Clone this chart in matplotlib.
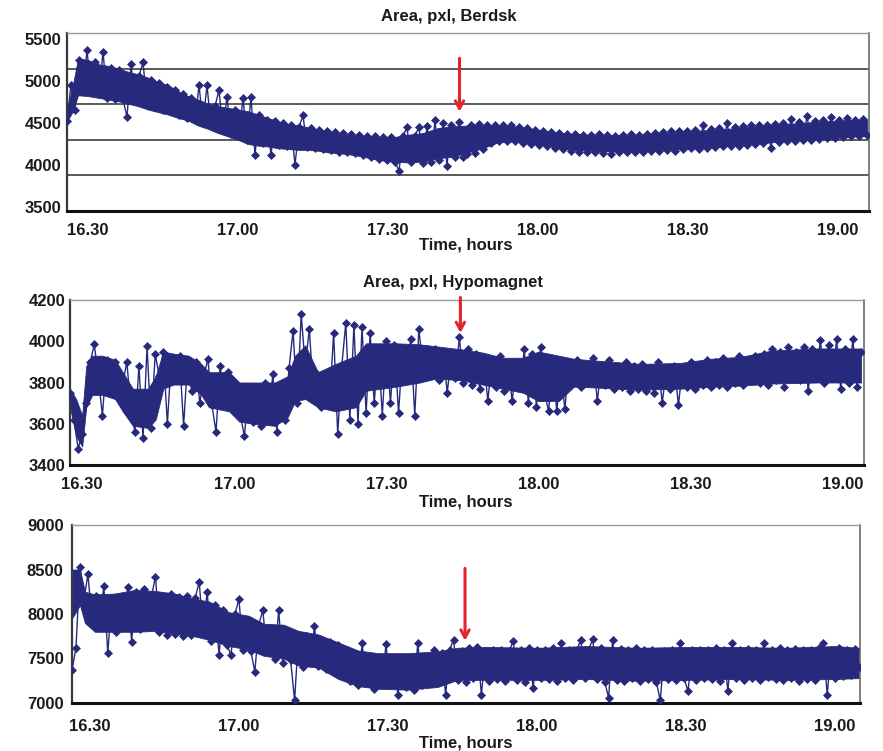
import numpy as np
import matplotlib
matplotlib.use('Agg')
import matplotlib.pyplot as plt

plt.rcParams['font.family'] = ['Liberation Sans', 'DejaVu Sans']

# ---------------- data ----------------
time_labels = ['16.30', '17.00', '17.30', '18.00', '18.30', '19.00']
time_ticks_min = [0, 30, 60, 90, 120, 150]          # minutes after 16:30
xlabel = 'Time, hours'

# ---- Panel 1: Berdsk ----
berdsk_title = 'Area, pxl, Berdsk'
berdsk_span = (-4.2, 155.8)                          # first / last sample, minutes after 16:30
berdsk = [
    4520, 4950, 4660, 5250, 4900, 5370, 4870, 5220, 4850, 5350,
    4800, 5160, 4790, 5130, 4780, 4570, 5200, 4770, 5060, 5220,
    4720, 5010, 4690, 4980, 4660, 4930, 4640, 4890, 4600, 4850,
    4560, 4800, 4530, 4950, 4500, 4950, 4460, 4700, 4890, 4420,
    4810, 4370, 4660, 4340, 4800, 4300, 4810, 4120, 4600, 4260,
    4540, 4120, 4520, 4240, 4500, 4230, 4480, 4000, 4450, 4590,
    4210, 4440, 4200, 4420, 4190, 4400, 4180, 4390, 4160, 4380,
    4150, 4370, 4140, 4360, 4120, 4350, 4100, 4340, 4070, 4330,
    4060, 4330, 4040, 3930, 4340, 4450, 4030, 4350, 4450, 4020,
    4460, 4040, 4530, 4060, 4500, 3990, 4480, 4100, 4510, 4100,
    4130, 4480, 4140, 4490, 4190, 4470, 4260, 4480, 4280, 4480,
    4290, 4470, 4280, 4450, 4260, 4440, 4250, 4420, 4240, 4410,
    4230, 4390, 4200, 4380, 4190, 4370, 4170, 4370, 4160, 4360,
    4160, 4360, 4150, 4370, 4140, 4360, 4130, 4350, 4150, 4360,
    4150, 4370, 4160, 4360, 4150, 4370, 4170, 4380, 4170, 4390,
    4180, 4400, 4170, 4410, 4190, 4400, 4200, 4420, 4190, 4470,
    4200, 4430, 4210, 4440, 4220, 4500, 4230, 4450, 4230, 4460,
    4240, 4470, 4250, 4480, 4260, 4470, 4200, 4490, 4270, 4500,
    4280, 4550, 4290, 4510, 4300, 4580, 4300, 4520, 4310, 4540,
    4320, 4570, 4320, 4540, 4330, 4560, 4340, 4540, 4350, 4550,
    4360,
]
# dense core of the point cloud (minute, low, high)
berdsk_band_t = [-4.2, -3, -2, 0, 2, 4, 6, 8, 10, 12, 14, 16, 18, 20, 22, 24, 26, 28,
                 30, 32, 34, 36, 38, 40, 42, 44, 46, 48, 50, 52, 55, 58, 61, 64, 67,
                 70, 73, 76, 79, 82, 85, 88, 91, 94, 97, 100, 105, 110, 115, 120,
                 125, 130, 135, 140, 145, 150, 155.8]
berdsk_band_lo = [4520, 4640, 4830, 4820, 4800, 4780, 4760, 4730, 4700, 4660, 4630,
                  4600, 4560, 4530, 4470, 4430, 4380, 4340, 4300, 4250, 4230, 4220,
                  4200, 4190, 4180, 4180, 4170, 4150, 4140, 4130, 4100, 4060, 4040,
                  4030, 4040, 4080, 4100, 4150, 4200, 4270, 4280, 4260, 4240, 4200,
                  4180, 4170, 4160, 4160, 4180, 4190, 4210, 4240, 4260, 4290, 4300,
                  4330, 4350]
berdsk_band_hi = [4660, 4960, 5270, 5250, 5200, 5180, 5150, 5110, 5080, 5040, 4990,
                  4950, 4880, 4820, 4780, 4730, 4700, 4680, 4660, 4640, 4600, 4560,
                  4520, 4490, 4470, 4450, 4420, 4400, 4380, 4360, 4340, 4330, 4330,
                  4360, 4380, 4440, 4460, 4470, 4470, 4470, 4460, 4440, 4410, 4380,
                  4370, 4360, 4355, 4360, 4380, 4400, 4420, 4440, 4470, 4490, 4510,
                  4530, 4540]
berdsk_yticks = [3500, 4000, 4500, 5000, 5500]
berdsk_gridlines = [3878, 4296, 4725, 5142]

# ---- Panel 2: Hypomagnet ----
hypo_title = 'Area, pxl, Hypomagnet'
hypo_span = (-2.4, 153.6)
hypo = [
    3750, 3620, 3480, 3550, 3700, 3900, 3985, 3820, 3640, 3910,
    3760, 3900, 3720, 3790, 3900, 3680, 3560, 3880, 3530, 3975,
    3580, 3940, 3830, 3950, 3600, 3920, 3850, 3930, 3590, 3900,
    3760, 3900, 3700, 3830, 3915, 3690, 3560, 3880, 3720, 3850,
    3680, 3790, 3640, 3540, 3760, 3610, 3780, 3590, 3800, 3620,
    3840, 3560, 3780, 3620, 3870, 4050, 3700, 4130, 3880, 4060,
    3750, 3840, 3680, 3820, 3700, 4040, 3550, 3880, 4090, 3620,
    4080, 3600, 4070, 3650, 4040, 3700, 3960, 3640, 4000, 3700,
    3980, 3650, 3960, 3850, 4010, 3640, 4060, 3880, 3960, 3840,
    3960, 3810, 3950, 3750, 3930, 3820, 4020, 3800, 3960, 3790,
    3940, 3770, 3920, 3710, 3900, 3780, 3930, 3760, 3890, 3710,
    3880, 3780, 3960, 3700, 3940, 3680, 3970, 3750, 3660, 3900,
    3660, 3860, 3670, 3900, 3820, 3910, 3780, 3890, 3810, 3920,
    3710, 3880, 3790, 3910, 3770, 3880, 3780, 3900, 3760, 3880,
    3770, 3890, 3760, 3870, 3750, 3900, 3700, 3860, 3770, 3880,
    3690, 3870, 3780, 3900, 3770, 3880, 3790, 3910, 3780, 3900,
    3790, 3920, 3780, 3900, 3800, 3930, 3790, 3910, 3810, 3930,
    3800, 3940, 3790, 3960, 3810, 3950, 3780, 3970, 3820, 3950,
    3810, 3970, 3760, 3960, 3830, 4005, 3800, 3980, 3820, 4010,
    3770, 3960, 3800, 4010, 3780, 3950,
]
hypo_band_t = [-2.4, -1.2, 0, 0.8, 2, 4, 6.5, 8, 10, 13, 14.5, 16, 18, 21, 23.5, 25,
               29, 31, 34, 38, 40.5, 42, 44, 46.5, 50, 54, 56, 62, 66.6, 70, 75, 79,
               83, 87, 90, 94, 97, 102, 110, 118, 124, 130, 136, 145, 153.6]
hypo_band_lo = [3680, 3540, 3490, 3680, 3740, 3740, 3720, 3660, 3590, 3580, 3620,
                3770, 3790, 3790, 3740, 3680, 3660, 3610, 3600, 3590, 3630, 3710,
                3720, 3680, 3660, 3680, 3760, 3780, 3800, 3820, 3810, 3790, 3770,
                3750, 3710, 3710, 3780, 3775, 3765, 3770, 3780, 3785, 3795, 3800,
                3800]
hypo_band_hi = [3770, 3720, 3640, 3880, 3930, 3930, 3910, 3850, 3770, 3770, 3830,
                3950, 3940, 3930, 3890, 3850, 3850, 3800, 3800, 3800, 3830, 3930,
                3980, 3850, 3890, 3930, 3990, 3990, 3985, 3975, 3960, 3945, 3920,
                3920, 3950, 3930, 3915, 3905, 3890, 3895, 3915, 3925, 3955, 3965,
                3965]
hypo_yticks = [3400, 3600, 3800, 4000, 4200]
hypo_gridlines = [3600, 3800, 4000]

# ---- Panel 3 ----
third_span = (-3.6, 154.8)
third = [
    7370, 7620, 8530, 8150, 8450, 7950, 8200, 7900, 8320, 7560,
    8150, 7800, 8190, 7850, 8300, 7690, 8250, 7830, 8280, 7850,
    8200, 8420, 7800, 8180, 7760, 8220, 7780, 8190, 7750, 8200,
    7760, 8180, 8360, 7800, 8250, 7700, 8100, 7540, 8050, 7650,
    7540, 8000, 8170, 7600, 7900, 7580, 7350, 7880, 8040, 7600,
    7820, 7500, 8040, 7450, 7780, 7480, 7030, 7760, 7400, 7750,
    7450, 7860, 7420, 7700, 7380, 7680, 7350, 7650, 7330, 7600,
    7250, 7500, 7200, 7670, 7230, 7480, 7160, 7450, 7210, 7660,
    7200, 7480, 7090, 7460, 7180, 7500, 7150, 7670, 7200, 7480,
    7250, 7600, 7270, 7560, 7090, 7600, 7710, 7260, 7580, 7240,
    7620, 7280, 7630, 7090, 7580, 7250, 7600, 7270, 7590, 7250,
    7580, 7700, 7260, 7600, 7240, 7620, 7170, 7590, 7280, 7600,
    7270, 7620, 7250, 7670, 7280, 7600, 7260, 7590, 7710, 7280,
    7600, 7720, 7270, 7620, 7240, 7060, 7710, 7260, 7610, 7250,
    7600, 7280, 7620, 7250, 7590, 7270, 7600, 7240, 7030, 7580,
    7270, 7600, 7260, 7670, 7280, 7130, 7600, 7260, 7590, 7280,
    7600, 7270, 7620, 7250, 7590, 7130, 7670, 7280, 7600, 7260,
    7610, 7280, 7590, 7260, 7670, 7290, 7600, 7270, 7620, 7260,
    7600, 7280, 7610, 7250, 7590, 7270, 7600, 7260, 7620, 7670,
    7090, 7600, 7280, 7620, 7300, 7600, 7320, 7610, 7400,
]
third_band_t = [-3.6, -2, -1, 1, 5, 9, 13, 17, 21, 24, 28, 32, 35, 39, 42, 46, 50,
                54, 58, 64, 70, 74, 80, 90, 100, 110, 120, 130, 140, 150, 154.8]
third_band_lo = [7950, 8100, 7900, 7800, 7800, 7800, 7810, 7780, 7750, 7710, 7640,
                 7600, 7530, 7500, 7420, 7400, 7270, 7190, 7160, 7150, 7180, 7260,
                 7260, 7260, 7270, 7250, 7260, 7270, 7260, 7270, 7280]
third_band_hi = [8500, 8500, 8250, 8220, 8230, 8270, 8260, 8230, 8170, 8140, 8020,
                 7980, 7890, 7880, 7810, 7770, 7680, 7590, 7560, 7560, 7580, 7620,
                 7630, 7620, 7640, 7620, 7630, 7630, 7620, 7640, 7620]
third_yticks = [7000, 7500, 8000, 8500, 9000]
third_gridlines = [7500, 8000, 8500]

# red arrows: (minute, arrow start value, arrow tip value)
event_berdsk = (74.3, 5270, 4635)
event_hypo = (74.6, 4212, 4040)
event_third = (75.5, 8513, 7700)

# ---------------- styling ----------------
NAVY = '#272a7c'
RED = '#e3242b'
W, H = 883, 751

fig = plt.figure(figsize=(W / 100, H / 100), dpi=100)
fig.patch.set_facecolor('white')


def px_axes(left, top, right, bottom):
    return fig.add_axes([left / W, 1 - bottom / H, (right - left) / W, (bottom - top) / H])


panels = [
    dict(box=(67, 33, 869, 211), series=berdsk, span=berdsk_span, xlim=(-4.2, 156.2),
         band=(berdsk_band_t, berdsk_band_lo, berdsk_band_hi),
         ylim=(3452, 5571), yticks=berdsk_yticks, grid=berdsk_gridlines, gridc='#5a5a5a',
         event=event_berdsk, ypad=4, xpad=8.5),
    dict(box=(70, 300, 864, 465), series=hypo, span=hypo_span, xlim=(-2.4, 154.2),
         band=(hypo_band_t, hypo_band_lo, hypo_band_hi),
         ylim=(3400, 4200), yticks=hypo_yticks, grid=hypo_gridlines, gridc='#6e6e6e',
         event=event_hypo, ypad=3, xpad=8.5),
    dict(box=(72, 525, 860, 703), series=third, span=third_span, xlim=(-3.6, 155.0),
         band=(third_band_t, third_band_lo, third_band_hi),
         ylim=(7000, 9000), yticks=third_yticks, grid=third_gridlines, gridc='#4a4a4a',
         event=event_third, ypad=6, xpad=11.5),
]

for p in panels:
    ax = px_axes(*p['box'])
    bt, blo, bhi = p['band']
    ax.fill_between(bt, blo, bhi, color=NAVY, lw=0.6, ec=NAVY, zorder=2)
    vals = np.asarray(p['series'], dtype=float)
    t = np.linspace(p['span'][0], p['span'][1], len(vals))
    ax.plot(t, vals, color=NAVY, lw=1.0, marker='D', ms=3.8,
            mfc=NAVY, mec=NAVY, mew=0.5, zorder=3)
    ax.set_xlim(*p['xlim'])
    ax.set_ylim(*p['ylim'])
    ax.set_xticks(time_ticks_min, time_labels)
    ax.set_yticks(p['yticks'], [str(v) for v in p['yticks']])
    ax.set_yticks(p['grid'], minor=True)
    ax.tick_params(which='both', length=0)
    ax.tick_params(axis='x', pad=p['xpad'], labelsize=12, colors='#1a1a1a')
    ax.tick_params(axis='y', pad=p['ypad'], labelsize=12, colors='#1a1a1a')
    for lab in ax.get_xticklabels() + ax.get_yticklabels():
        lab.set_fontweight('bold')
    ax.set_axisbelow(True)
    ax.yaxis.grid(True, which='minor', color=p['gridc'], lw=1.4)
    ax.spines['top'].set_color('#9a9a9a')
    ax.spines['top'].set_linewidth(1.0)
    ax.spines['right'].set_color('#6a6a6a')
    ax.spines['right'].set_linewidth(1.2)
    ax.spines['left'].set_color('#3a3a3a')
    ax.spines['left'].set_linewidth(1.6)
    ax.spines['bottom'].set_color('#111111')
    ax.spines['bottom'].set_linewidth(2.2)
    ex, ey0, ey1 = p['event']
    ax.annotate('', xy=(ex, ey1), xytext=(ex, ey0), xycoords='data',
                arrowprops=dict(arrowstyle='->,head_length=0.55,head_width=0.3',
                                color=RED, lw=2.2, shrinkA=0, shrinkB=0),
                annotation_clip=False, zorder=5)

fig.text(449 / W, 1 - 16 / H, berdsk_title, ha='center', va='center',
         fontsize=12, fontweight='bold', color='#1a1a1a')
fig.text(453 / W, 1 - 282 / H, hypo_title, ha='center', va='center',
         fontsize=12, fontweight='bold', color='#1a1a1a')
for y in (245, 502, 743):
    fig.text(466 / W, 1 - y / H, xlabel, ha='center', va='center',
             fontsize=12, fontweight='bold', color='#1a1a1a')

fig.savefig('out.png', dpi=100, facecolor='white')
